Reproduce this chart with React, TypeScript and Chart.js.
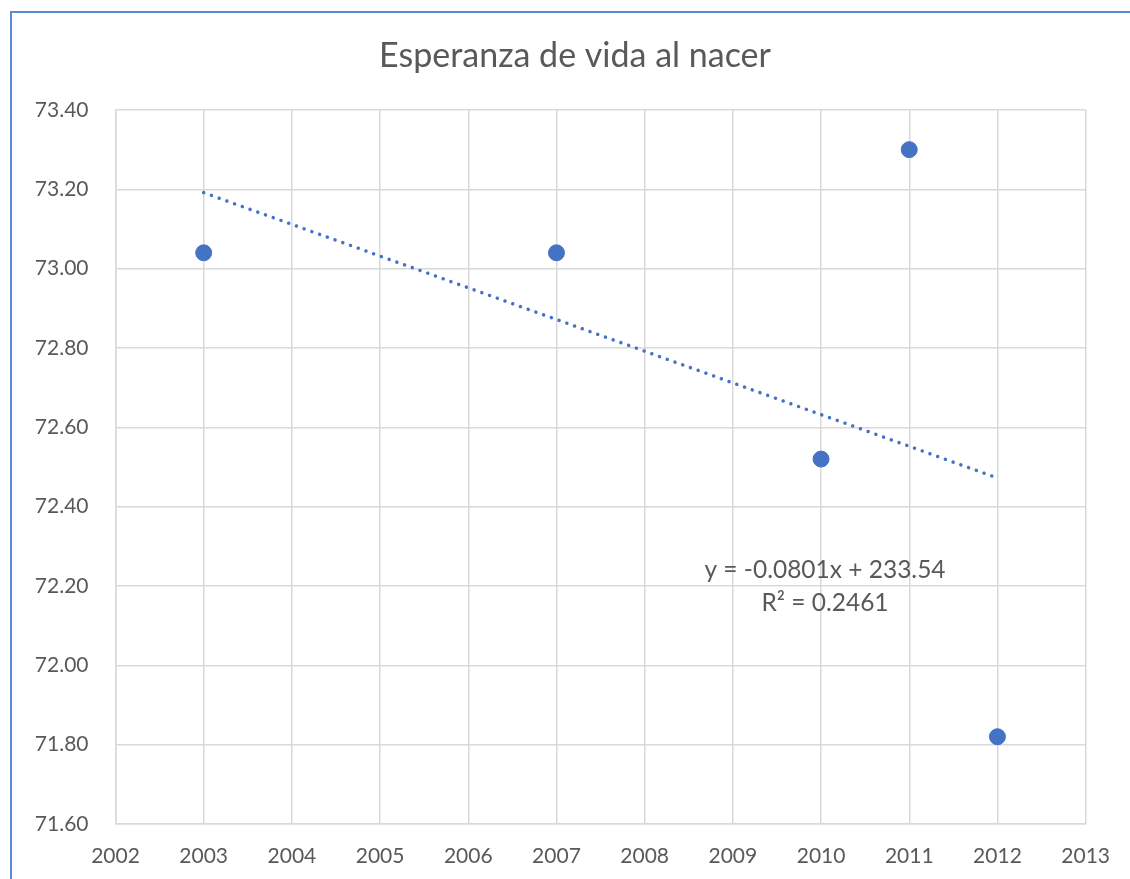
import React, { useEffect, useRef } from "react";
import { Chart, registerables } from "chart.js";

Chart.register(...registerables);

const years = [2003, 2007, 2010, 2011, 2012];
const lifeExpectancy = [73.04, 73.04, 72.52, 73.3, 71.82];
const xTickValues = [2002, 2003, 2004, 2005, 2006, 2007, 2008, 2009, 2010, 2011, 2012, 2013];
const yTickValues = [71.6, 71.8, 72.0, 72.2, 72.4, 72.6, 72.8, 73.0, 73.2, 73.4];
const titleText = "Esperanza de vida al nacer";
const equationText = "y = -0.0801x + 233.54";
const r2Text = "R² = 0.2461";

const FONT = "Lato, 'Open Sans', sans-serif";
const TEXT = "#595959";
const GRID = "#d9d9d9";
const BLUE = "#4472C4";

function linearFit(xs: number[], ys: number[]) {
  const n = xs.length;
  const mx = xs.reduce((a, b) => a + b, 0) / n;
  const my = ys.reduce((a, b) => a + b, 0) / n;
  let sxy = 0;
  let sxx = 0;
  for (let i = 0; i < n; i++) {
    sxy += (xs[i] - mx) * (ys[i] - my);
    sxx += (xs[i] - mx) * (xs[i] - mx);
  }
  const slope = sxy / sxx;
  return { slope, intercept: my - slope * mx };
}

export default function App() {
  const ref = useRef<HTMLCanvasElement>(null);

  useEffect(() => {
    document.body.style.margin = "0";
    const fit = linearFit(years, lifeExpectancy);
    const x0 = Math.min(...years);
    const x1 = Math.max(...years);
    const trend = [
      { x: x0, y: fit.intercept + fit.slope * x0 },
      { x: x1, y: fit.intercept + fit.slope * x1 },
    ];

    const textPlugin = {
      id: "texts",
      afterDraw(chart: any) {
        const ctx = chart.ctx;
        ctx.save();
        ctx.fillStyle = TEXT;
        ctx.textAlign = "center";
        ctx.textBaseline = "middle";
        ctx.font = `34px ${FONT}`;
        ctx.fillText(titleText, 575, 56);
        ctx.font = `24.5px ${FONT}`;
        ctx.fillText(equationText, 825, 570);
        ctx.fillText(r2Text, 825, 603);
        ctx.restore();
      },
    };

    const chart = new Chart(ref.current!, {
      type: "scatter",
      data: {
        datasets: [
          {
            type: "line",
            data: trend,
            borderColor: BLUE,
            borderWidth: 3.5,
            borderDash: [0.01, 8.2],
            borderCapStyle: "round",
            pointRadius: 0,
            fill: false,
            order: 2,
          } as any,
          {
            data: years.map((y, i) => ({ x: y, y: lifeExpectancy[i] })),
            backgroundColor: BLUE,
            borderColor: BLUE,
            pointRadius: 8,
            order: 1,
          },
        ],
      },
      options: {
        animation: false,
        responsive: false,
        layout: { padding: { left: 0, right: 42, top: 110, bottom: 0 } },
        plugins: {
          legend: { display: false },
          title: { display: false },
          tooltip: { enabled: false },
        },
        scales: {
          x: {
            type: "linear",
            min: 2002,
            max: 2013,
            afterBuildTicks: (s: any) => {
              s.ticks = xTickValues.map((v) => ({ value: v }));
            },
            afterFit: (s: any) => {
              s.height = 55;
            },
            ticks: {
              callback: (v: any) => String(v),
              color: TEXT,
              font: { family: FONT, size: 21 },
              padding: 20,
              maxRotation: 0,
              autoSkip: false,
            },
            grid: { color: GRID, lineWidth: 1.5, drawTicks: false },
            border: { color: GRID, width: 1.5 },
          },
          y: {
            type: "linear",
            min: 71.6,
            max: 73.4,
            afterBuildTicks: (s: any) => {
              s.ticks = yTickValues.map((v) => ({ value: v }));
            },
            afterFit: (s: any) => {
              s.width = 115.5;
            },
            ticks: {
              callback: (v: any) => Number(v).toFixed(2),
              color: TEXT,
              font: { family: FONT, size: 21 },
              padding: 27,
              autoSkip: false,
            },
            grid: { color: GRID, lineWidth: 1.5, drawTicks: false },
            border: { color: GRID, width: 1.5 },
          },
        },
      },
      plugins: [textPlugin],
    });
    return () => chart.destroy();
  }, []);

  return (
    <div style={{ position: "fixed", left: 0, top: 0, width: 1130, height: 879, background: "#fff", overflow: "hidden" }}>
      <div
        style={{
          position: "absolute",
          left: 10,
          top: 11,
          width: 1200,
          height: 1000,
          borderLeft: "2px solid #5b8bd3",
          borderTop: "2px solid #5b8bd3",
        }}
      />
      <canvas ref={ref} width={1130} height={879} style={{ position: "absolute", left: 0, top: 0, width: 1130, height: 879 }} />
    </div>
  );
}
